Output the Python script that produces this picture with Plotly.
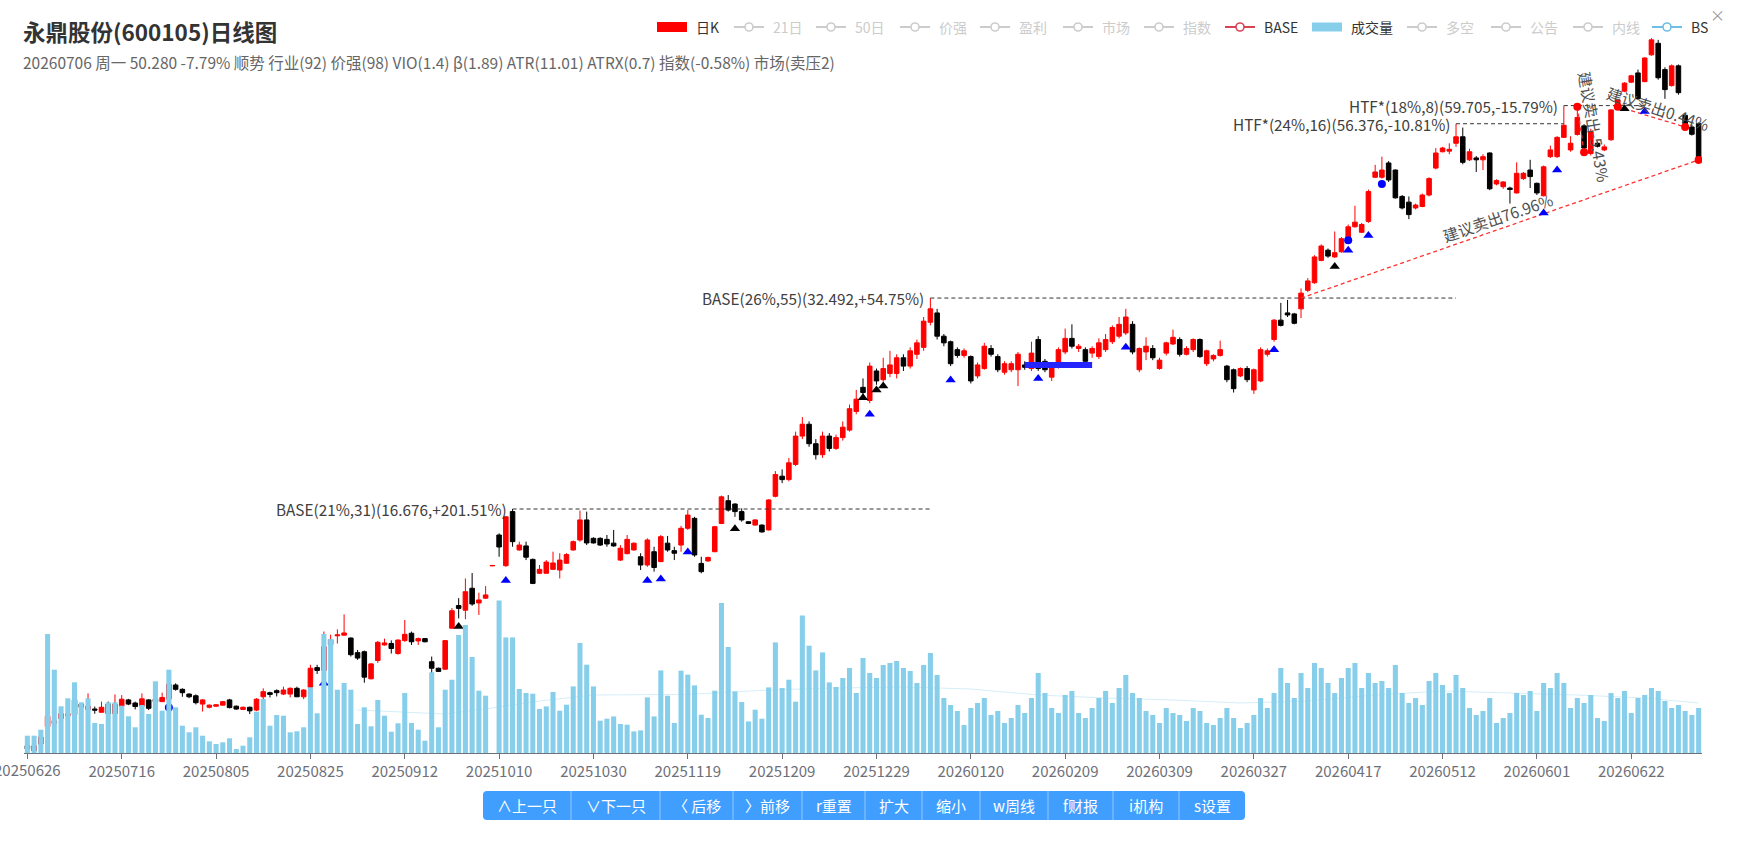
import plotly.graph_objects as go
import math

# ---------------- data ----------------
tick_labels = ["20250626", "20250716", "20250805", "20250825", "20250912", "20251010",
               "20251030", "20251119", "20251209", "20251229", "20260120", "20260209",
               "20260309", "20260327", "20260417", "20260512", "20260601", "20260622"]
tick_step = 14

opens = [
    7.89, 7.76, 7.93, 8.38, 8.46, 8.60, 8.67, 8.70, 9.00, 8.85,
    8.86, 8.77, 9.00, 8.73, 8.94, 9.12, 9.03, 8.94, 9.12, 9.14,
    9.07, 9.14, 9.56, 9.43, 9.29, 9.24, 9.00, 8.91, 8.94, 8.97,
    9.12, 8.94, 8.85, 8.91, 8.83, 9.21, 9.33, 9.39, 9.29, 9.29,
    9.46, 9.21, 9.49, 10.10, 10.01, 10.86, 11.17, 11.19, 11.09, 10.59,
    10.62, 9.75, 10.33, 10.85, 10.90, 10.56, 11.00, 11.26, 10.99, 11.07,
    10.29, 10.08, 10.05, 11.44, 12.29, 12.11, 12.98, 12.39, 12.58, 13.93,
    15.36, 13.94, 16.54, 14.65, 14.84, 14.22, 13.61, 13.61, 13.78, 13.75,
    14.05, 14.65, 15.12, 16.11, 15.20, 15.20, 15.15, 14.97, 14.19, 14.48,
    14.65, 14.34, 13.97, 14.57, 14.12, 14.97, 14.62, 14.88, 15.69, 16.19,
    14.04, 14.15, 14.57, 15.93, 17.12, 16.94, 16.54, 16.02, 15.85, 15.85,
    15.61, 17.36, 18.5, 18.3, 19.2, 21.0, 21.8, 20.5, 19.8, 21.0,
    20.2, 20.9, 21.4, 22.7, 24.5, 23.5, 25.8, 25.1, 25.6, 25.6,
    26.9, 26.2, 27.2, 27.8, 30.1, 31.0, 28.8, 28.3, 27.6, 27.1,
    27.0, 25.4, 26.0, 27.7, 27.0, 25.7, 25.9, 25.9, 26.3, 26.0,
    28.5, 26.6, 25.3, 26.2, 27.4, 28.6, 27.7, 27.6, 27.3, 27.0,
    27.6, 28.3, 28.8, 29.1, 29.9, 25.9, 27.4, 27.7, 26.0, 27.3,
    28.1, 28.5, 27.2, 27.6, 28.5, 26.4, 26.8, 27.1, 26.2, 25.9,
    25.4, 26.0, 24.3, 25.0, 27.2, 28.5, 30.3, 31.0, 30.9, 31.4,
    33.3, 34.1, 36.6, 37.8, 37.0, 37.6, 39.0, 40.7, 40.0, 41.4,
    47.6, 47.6, 49.8, 48.7, 44.8, 44.0, 43.2, 43.4, 45.0, 49.0,
    51.6, 51.7, 53.0, 54.1, 50.3, 50.6, 50.3, 51.4, 46.6, 46.2,
    46.0, 45.3, 47.4, 48.7, 46.7, 44.9, 50.8, 50.8, 54.0, 51.9,
    54.5, 56.0, 51.3, 53.0, 51.9, 53.6, 59.3, 62.5, 64.3, 66.2,
    64.4, 70.1, 72.7, 66.9, 63.6, 67.7, 57.9, 55.8, 56.4]

highs = [
    7.96, 7.95, 8.14, 8.87, 8.79, 8.80, 8.94, 9.17, 9.02, 9.31,
    8.93, 9.07, 9.07, 9.28, 9.26, 9.15, 9.07, 9.31, 9.14, 9.49,
    9.33, 9.65, 9.61, 9.46, 9.31, 9.28, 9.14, 8.99, 8.99, 9.09,
    9.15, 8.96, 8.93, 8.93, 9.17, 9.46, 9.36, 9.43, 9.51, 9.49,
    9.51, 9.43, 10.19, 10.19, 11.32, 11.21, 11.40, 11.95, 11.11, 10.68,
    10.66, 10.25, 10.99, 11.07, 11.01, 11.04, 11.74, 11.32, 11.11, 11.09,
    10.46, 10.10, 11.02, 12.19, 12.58, 13.39, 13.62, 12.80, 13.07, 13.95,
    15.44, 16.31, 16.676, 15.04, 15.04, 14.26, 13.97, 14.19, 14.57, 14.50,
    14.50, 15.10, 16.59, 16.54, 15.25, 15.25, 15.36, 15.61, 14.88, 15.36,
    15.00, 14.50, 15.20, 14.80, 15.36, 15.31, 14.80, 15.81, 16.62, 16.27,
    14.34, 14.34, 15.81, 17.40, 17.43, 16.98, 16.71, 16.05, 16.15, 15.88,
    17.20, 18.8, 18.9, 19.6, 21.3, 22.3, 22.0, 20.8, 21.3, 21.2,
    21.1, 22.0, 23.2, 24.3, 25.2, 26.5, 26.0, 26.9, 27.5, 27.2,
    27.2, 27.8, 28.5, 30.6, 32.492, 31.4, 29.0, 28.4, 27.8, 27.7,
    27.1, 26.5, 28.2, 28.0, 27.2, 26.6, 26.6, 27.4, 26.6, 28.3,
    28.8, 26.8, 26.4, 27.8, 29.5, 29.9, 28.1, 27.8, 27.9, 28.6,
    29.0, 29.8, 30.6, 31.4, 30.2, 27.8, 28.7, 28.0, 26.9, 28.3,
    29.4, 28.7, 27.9, 28.6, 28.6, 27.6, 27.2, 28.4, 26.3, 26.0,
    26.1, 26.2, 26.0, 27.8, 27.7, 30.4, 32.0, 32.3, 31.0, 33.5,
    34.6, 37.2, 38.5, 38.0, 40.1, 39.4, 41.0, 43.5, 41.2, 45.8,
    49.5, 50.8, 50.1, 48.8, 45.0, 44.8, 43.8, 45.2, 47.6, 52.2,
    52.4, 53.0, 56.376, 55.7, 52.1, 50.9, 51.2, 51.5, 47.3, 47.0,
    46.2, 49.9, 48.4, 50.3, 46.8, 49.4, 52.6, 54.2, 59.705, 54.2,
    59.4, 56.3, 55.5, 53.3, 52.8, 59.0, 61.0, 64.3, 65.8, 66.9,
    69.6, 73.9, 73.5, 67.4, 68.0, 68.0, 58.3, 56.2, 56.6]

lows = [
    7.73, 7.72, 7.92, 8.38, 8.43, 8.58, 8.65, 8.65, 8.79, 8.84,
    8.73, 8.77, 8.70, 8.72, 8.93, 8.97, 8.85, 8.85, 8.83, 9.04,
    9.07, 9.07, 9.39, 9.21, 9.17, 8.99, 8.79, 8.88, 8.93, 8.96,
    8.88, 8.84, 8.83, 8.72, 8.80, 9.12, 9.19, 9.22, 9.26, 9.19,
    9.21, 9.14, 9.46, 9.90, 9.98, 10.83, 10.90, 11.19, 10.46, 10.35,
    9.63, 9.73, 10.25, 10.83, 10.56, 10.52, 10.96, 10.85, 10.85, 10.94,
    9.92, 9.96, 10.03, 11.42, 11.80, 11.77, 12.28, 11.93, 12.55, 13.93,
    14.34, 13.89, 14.80, 14.62, 14.19, 13.15, 13.58, 13.61, 13.75, 13.39,
    14.02, 14.62, 15.04, 14.88, 14.95, 14.84, 14.80, 14.80, 14.15, 14.45,
    14.62, 13.75, 13.89, 13.68, 14.10, 14.57, 14.19, 14.57, 15.61, 14.34,
    13.61, 14.12, 14.55, 15.90, 16.54, 16.27, 16.02, 15.90, 15.82, 15.48,
    15.58, 17.3, 18.1, 18.2, 19.1, 20.8, 20.3, 19.5, 19.6, 20.0,
    20.1, 20.7, 21.3, 22.5, 23.9, 23.3, 24.7, 24.95, 25.3, 25.2,
    25.8, 26.0, 26.8, 27.5, 29.8, 28.5, 27.9, 26.2, 26.9, 26.9,
    24.8, 25.2, 25.9, 27.0, 25.7, 25.5, 25.7, 24.6, 25.9, 25.8,
    25.8, 25.7, 25.0, 26.0, 27.2, 27.7, 27.4, 26.4, 26.9, 26.8,
    27.4, 28.1, 28.6, 28.9, 27.2, 25.7, 26.7, 26.7, 25.9, 27.1,
    28.0, 27.0, 27.1, 27.4, 26.9, 26.2, 26.6, 27.0, 24.9, 24.1,
    25.3, 24.9, 24.0, 24.9, 27.0, 28.3, 29.7, 30.6, 29.9, 30.5,
    33.1, 34.0, 36.5, 36.9, 36.9, 37.5, 38.9, 40.6, 39.9, 41.2,
    47.5, 47.4, 46.9, 44.5, 43.0, 41.7, 43.0, 43.3, 44.8, 48.8,
    51.5, 51.2, 52.4, 49.6, 50.1, 48.4, 48.7, 45.7, 46.4, 45.9,
    43.8, 45.2, 47.2, 46.0, 45.0, 44.8, 50.6, 50.6, 53.9, 51.6,
    54.3, 51.5, 51.0, 52.3, 51.7, 53.4, 59.2, 62.3, 64.1, 60.8,
    64.3, 69.9, 64.8, 61.0, 63.4, 61.8, 55.8, 54.3, 50.0]

closes = [
    7.81, 7.89, 8.11, 8.66, 8.54, 8.73, 8.73, 9.12, 8.91, 8.94,
    8.83, 8.91, 8.73, 9.00, 9.14, 9.00, 8.93, 9.15, 8.88, 9.07,
    9.19, 9.58, 9.43, 9.33, 9.21, 9.04, 9.12, 8.97, 8.98, 9.07,
    8.90, 8.86, 8.91, 8.81, 9.14, 9.36, 9.28, 9.33, 9.41, 9.46,
    9.21, 9.41, 10.08, 10.01, 10.79, 11.04, 11.20, 11.27, 10.52, 10.41,
    9.80, 10.22, 10.94, 10.92, 10.73, 11.02, 11.22, 10.96, 11.07, 10.96,
    10.08, 9.98, 11.00, 12.09, 12.18, 12.84, 12.35, 12.51, 12.71, 13.95,
    14.79, 16.27, 15.04, 14.88, 14.32, 13.18, 13.78, 14.10, 14.06, 14.19,
    14.44, 15.04, 16.11, 14.98, 14.98, 14.88, 14.93, 14.84, 14.73, 15.15,
    14.97, 13.97, 15.12, 13.86, 15.28, 14.65, 14.50, 15.69, 16.36, 14.42,
    13.68, 14.31, 15.77, 17.33, 16.62, 16.54, 16.11, 15.93, 16.11, 15.51,
    17.16, 18.6, 18.3, 19.3, 21.0, 21.8, 20.5, 19.8, 21.0, 20.2,
    20.9, 21.6, 22.9, 23.6, 24.1, 26.2, 25.0, 26.0, 26.3, 26.9,
    26.2, 27.5, 28.2, 30.2, 31.4, 28.8, 28.2, 26.4, 27.1, 27.5,
    25.0, 26.3, 27.9, 27.2, 25.9, 26.4, 26.4, 27.2, 26.1, 27.3,
    26.0, 25.9, 26.2, 27.6, 28.6, 27.9, 27.9, 26.6, 27.7, 28.2,
    28.5, 29.6, 29.9, 30.6, 27.4, 27.7, 27.9, 26.9, 26.7, 28.2,
    28.7, 27.2, 27.7, 28.5, 27.0, 27.5, 27.1, 27.6, 25.1, 24.4,
    26.0, 25.1, 25.9, 27.6, 27.5, 30.3, 29.8, 30.8, 30.0, 33.0,
    34.3, 37.0, 38.3, 37.1, 37.5, 39.2, 40.7, 41.3, 41.0, 45.5,
    48.4, 48.7, 47.2, 44.6, 43.2, 42.3, 43.6, 45.0, 47.4, 51.4,
    52.2, 52.0, 54.1, 49.9, 51.6, 50.3, 50.8, 45.9, 47.1, 46.9,
    45.8, 48.2, 48.2, 47.7, 45.3, 49.2, 51.9, 54.0, 56.1, 53.0,
    57.5, 52.2, 55.0, 52.5, 52.4, 58.9, 60.8, 64.1, 65.6, 61.0,
    69.4, 73.5, 65.2, 62.8, 67.7, 62.2, 56.4, 54.53, 50.28]

volume = [
    17.3, 17.3, 23.3, 119, 83.3, 46.7, 54.7, 70.7, 50.7, 54.7,
    30, 29, 50.7, 50.7, 47.3, 36.7, 25.7, 48, 39, 71.7,
    42.3, 83.3, 45.7, 27.3, 20.7, 25.7, 17.3, 11.7, 9, 10.7,
    14.7, 4, 7.3, 15.7, 41.3, 54, 27.3, 38, 37.3, 20.7,
    21.7, 25.7, 65.7, 39.7, 119, 114, 63.3, 70, 63.3, 29,
    45.7, 26.7, 53, 37.3, 21.3, 29.7, 60, 30, 23.3, 12.3,
    80.7, 25.7, 63.3, 73.3, 118, 128, 96, 62.3, 57.3, 0,
    152.6, 115.6, 115.6, 64, 60, 59.3, 44, 46.6, 61, 42.3,
    48.3, 66.6, 110, 88.3, 66.6, 32.3, 34.3, 36.6, 29, 28.3,
    21.6, 22.6, 55.6, 36.6, 82.6, 57.3, 30, 82.3, 78.3, 67.6,
    38.3, 35, 62.3, 150, 106, 61.6, 51, 31.6, 43.3, 34.3,
    65.6, 110.6, 65, 73.3, 51.3, 137.6, 107.3, 82.6, 100.6, 70.6,
    66, 75, 85, 60, 95, 80, 75, 88, 90, 92,
    85, 82, 70, 88, 100, 78, 55, 48, 42, 28,
    45, 50, 55, 38, 42, 30, 35, 48, 40, 55,
    80, 60, 45, 40, 58, 62, 40, 35, 45, 55,
    62, 50, 65, 78, 60, 55, 42, 38, 30, 45,
    40, 38, 32, 45, 42, 30, 28, 35, 45, 35,
    25, 30, 38, 55, 45, 60, 85, 70, 55, 80,
    65, 90, 85, 70, 60, 75, 85, 90, 65, 80,
    70, 72, 65, 88, 60, 50, 55, 48, 72, 80,
    68, 60, 78, 65, 45, 38, 42, 55, 30, 35,
    40, 60, 58, 62, 42, 70, 65, 80, 70, 45,
    55, 50, 58, 35, 32, 60, 55, 62, 40, 55,
    58, 65, 62, 52, 45, 48, 42, 38, 45]

vol_ma_idx = [49, 56, 62, 69, 76, 84, 98, 110, 120, 130, 140, 150, 160, 170, 180,
              190, 200, 210, 220, 230, 240, 248]
vol_ma_val = [43, 41, 39, 45, 52, 58, 58.6, 63, 65, 66, 64, 58, 55, 53, 50,
              52, 58, 62, 60, 58, 55, 50]

# BASE / HTF levels
base_labels = ["BASE(21%,31)(16.676,+201.51%)", "BASE(26%,55)(32.492,+54.75%)",
               "HTF*(24%,16)(56.376,-10.81%)", "HTF*(18%,8)(59.705,-15.79%)"]
base_start = [72, 134, 212, 228]
base_end = [134, 212, 228, 240]
base_price = [16.676, 32.492, 56.376, 59.705]

# signal markers
blue_tri_idx = [44, 71, 92, 94, 98, 125, 137, 150, 163, 185, 196, 199, 225, 227, 240]
blue_tri_val = [9.61, 13.30, 13.30, 13.37, 14.56, 22.5, 25.08, 25.2, 27.8, 27.6,
                37.8, 39.6, 42.5, 48.7, 58.6]
black_tri_idx = [64, 105, 124, 126, 127, 194, 237]
black_tri_val = [11.5, 15.67, 23.7, 24.3, 24.6, 35.9, 59.1]
blue_dot_idx = [21, 196, 201]
blue_dot_val = [8.90, 39.0, 46.6]
red_dot_idx = [230, 231, 236, 246, 248]
red_dot_val = [59.5, 51.5, 59.5, 55.8, 50.28]

box_idx = [148, 158]
box_val = 26.3

# suggested-sell lines
sell_x0 = [189, 230, 236]
sell_y0 = [32.49, 59.5, 59.5]
sell_x1 = [248, 231, 246]
sell_y1 = [50.28, 51.5, 55.8]
sell_text = ["建议卖出76.96%", "建议卖出-5.43%", "建议卖出0.44%"]
sell_text_x = [218.2, 232.6, 241.9]
sell_text_y = [42.0, 55.84, 59.19]
sell_text_angle = [-19, 80, 18]

legend_names = ["日K", "21日", "50日", "价强", "盈利", "市场", "指数", "BASE", "成交量",
                "多空", "公告", "内线", "BS"]
legend_kind = ["rect", "line", "line", "line", "line", "line", "line", "line", "rect",
               "line", "line", "line", "line"]
legend_on = [True, False, False, False, False, False, False, True, True,
             False, False, False, True]
legend_color = ["#ff0000", "#ccc", "#ccc", "#ccc", "#ccc", "#ccc", "#ccc", "#d94455",
                "#87ceeb", "#ccc", "#ccc", "#ccc", "#6dbfe3"]
legend_text_left = [694, 771, 853, 937, 1017, 1100, 1181, 1262, 1349, 1444, 1528, 1610, 1689]

buttons = ["∧上一只", "∨下一只", "〈 后移", "〉前移", "r重置", "扩大", "缩小", "w周线",
           "f财报", "i机构", "s设置"]
button_edges = [483, 571, 660, 733, 802, 865, 922, 980, 1048, 1113, 1179, 1245]

title = "永鼎股份(600105)日线图"
subtitle = ("20260706 周一 50.280 -7.79% 顺势 行业(92) 价强(98) VIO(1.4) β(1.89) "
            "ATR(11.01) ATRX(0.7) 指数(-0.58%) 市场(卖压2)")

# ---------------- layout helpers ----------------
W, H = 1742, 846
ML, MR, MT, MB = 24, 40, 30, 93
PW = W - ML - MR
PH = H - MT - MB
FONT = "Noto Sans CJK SC, Microsoft YaHei, sans-serif"
N = len(closes)
idx = list(range(N))


def fx(px):
    return (px - ML) / PW


def fy(py):
    return 1 - (py - MT) / PH


fig = go.Figure()

fig.add_trace(go.Bar(x=idx, y=volume, yaxis="y2",
                     marker=dict(color="rgb(135,206,235)", line=dict(width=0)), hoverinfo="skip"))
fig.add_trace(go.Scatter(x=vol_ma_idx, y=vol_ma_val, yaxis="y2", mode="lines",
                         line=dict(color="rgba(135,206,235,0.35)", width=1), hoverinfo="skip"))

fig.add_trace(go.Candlestick(
    x=idx, open=opens, high=highs, low=lows, close=closes,
    increasing=dict(line=dict(color="#ff0000", width=1), fillcolor="#ff0000"),
    decreasing=dict(line=dict(color="#000000", width=1), fillcolor="#000000"),
    whiskerwidth=0, hoverinfo="skip"))

fig.add_trace(go.Scatter(x=box_idx, y=[box_val, box_val], mode="lines",
                         line=dict(color="#2424ff", width=6), hoverinfo="skip"))

for s, e, p in zip(base_start, base_end, base_price):
    fig.add_trace(go.Scatter(x=[s, e], y=[p, p], mode="lines",
                             line=dict(color="#333", width=1, dash="4px,3px"), hoverinfo="skip"))

for x0, y0, x1, y1 in zip(sell_x0, sell_y0, sell_x1, sell_y1):
    fig.add_trace(go.Scatter(x=[x0, x1], y=[y0, y1], mode="lines",
                             line=dict(color="#ff3030", width=1.3, dash="4px,3px"), hoverinfo="skip"))

fig.add_trace(go.Scatter(x=blue_tri_idx, y=blue_tri_val, mode="markers",
                         marker=dict(symbol="triangle-up", size=9, color="#0000ff"), hoverinfo="skip"))
fig.add_trace(go.Scatter(x=black_tri_idx, y=black_tri_val, mode="markers",
                         marker=dict(symbol="triangle-up", size=9, color="#000000"), hoverinfo="skip"))
fig.add_trace(go.Scatter(x=blue_dot_idx, y=blue_dot_val, mode="markers",
                         marker=dict(symbol="circle", size=8, color="#0000ff"), hoverinfo="skip"))
fig.add_trace(go.Scatter(x=red_dot_idx, y=red_dot_val, mode="markers",
                         marker=dict(symbol="circle", size=8, color="#ff0000"), hoverinfo="skip"))

annotations = []
shapes = []

for lab, s, p in zip(base_labels, base_start, base_price):
    annotations.append(dict(x=s, y=math.log10(p), xref="x", yref="y", text=lab, showarrow=False,
                            xanchor="right", yanchor="middle", xshift=-4,
                            font=dict(family=FONT, size=15.3, color="#404040")))

for t, x, y, a in zip(sell_text, sell_text_x, sell_text_y, sell_text_angle):
    annotations.append(dict(x=x, y=math.log10(y), xref="x", yref="y", text=t, showarrow=False,
                            textangle=a, xanchor="center", yanchor="middle",
                            font=dict(family=FONT, size=15.5, color="#505050")))

# first tick label (partly outside the canvas, as in the original)
annotations.append(dict(x=0, y=fy(769), xref="x", yref="paper", text=tick_labels[0], showarrow=False,
                        xanchor="center", yanchor="middle",
                        font=dict(family=FONT, size=15, color="#6E7079")))

annotations.append(dict(x=fx(21), y=fy(31), xref="paper", yref="paper", text="<b>" + title + "</b>",
                        showarrow=False, xanchor="left", yanchor="middle",
                        font=dict(family=FONT, size=22.5, color="#333")))
annotations.append(dict(x=fx(21), y=fy(62), xref="paper", yref="paper", text=subtitle,
                        showarrow=False, xanchor="left", yanchor="middle",
                        font=dict(family=FONT, size=15.5, color="#666")))

LY = 27
for name, kind, on, col, tl in zip(legend_names, legend_kind, legend_on, legend_color, legend_text_left):
    il = tl - 37
    if kind == "rect":
        h = 10 if name == "日K" else 9
        shapes.append(dict(type="rect", xref="paper", yref="paper", x0=fx(il), x1=fx(il + 30),
                           y0=fy(LY - h / 2), y1=fy(LY + h / 2), fillcolor=col, line=dict(width=0),
                           layer="above"))
    else:
        shapes.append(dict(type="line", xref="paper", yref="paper", x0=fx(il), x1=fx(il + 30),
                           y0=fy(LY), y1=fy(LY), line=dict(color=col, width=2), layer="above"))
        shapes.append(dict(type="circle", xref="paper", yref="paper", x0=fx(il + 11), x1=fx(il + 19),
                           y0=fy(LY - 4), y1=fy(LY + 4), fillcolor="white",
                           line=dict(color=col, width=1.6), layer="above"))
    annotations.append(dict(x=fx(tl), y=fy(LY), xref="paper", yref="paper", text=name, showarrow=False,
                            xanchor="left", yanchor="middle",
                            font=dict(family=FONT, size=14, color="#333" if on else "#ccc")))

annotations.append(dict(x=fx(1717), y=fy(14), xref="paper", yref="paper", text="×", showarrow=False,
                        xanchor="center", yanchor="middle", font=dict(family=FONT, size=15, color="#999")))

BY0, BY1 = 791, 820
rr = 4
x0b, x1b = button_edges[0], button_edges[-1]
path = (f"M {fx(x0b + rr)},{fy(BY0)} L {fx(x1b - rr)},{fy(BY0)} Q {fx(x1b)},{fy(BY0)} {fx(x1b)},{fy(BY0 + rr)} "
        f"L {fx(x1b)},{fy(BY1 - rr)} Q {fx(x1b)},{fy(BY1)} {fx(x1b - rr)},{fy(BY1)} "
        f"L {fx(x0b + rr)},{fy(BY1)} Q {fx(x0b)},{fy(BY1)} {fx(x0b)},{fy(BY1 - rr)} "
        f"L {fx(x0b)},{fy(BY0 + rr)} Q {fx(x0b)},{fy(BY0)} {fx(x0b + rr)},{fy(BY0)} Z")
shapes.append(dict(type="path", xref="paper", yref="paper", path=path, fillcolor="#409eff",
                   line=dict(width=0), layer="above"))
for e in button_edges[1:-1]:
    shapes.append(dict(type="line", xref="paper", yref="paper", x0=fx(e), x1=fx(e), y0=fy(BY0), y1=fy(BY1),
                       line=dict(color="rgba(255,255,255,0.45)", width=1), layer="above"))
for lab, a, b in zip(buttons, button_edges[:-1], button_edges[1:]):
    annotations.append(dict(x=fx((a + b) / 2), y=fy((BY0 + BY1) / 2), xref="paper", yref="paper", text=lab,
                            showarrow=False, xanchor="center", yanchor="middle",
                            font=dict(family=FONT, size=15, color="white")))

fig.update_layout(
    width=W, height=H,
    margin=dict(l=ML, r=MR, t=MT, b=MB, pad=0),
    paper_bgcolor="white", plot_bgcolor="white",
    showlegend=False,
    bargap=0.25,
    boxgap=0.25, boxgroupgap=0.1,
    annotations=annotations, shapes=shapes,
    xaxis=dict(range=[-0.5, N - 0.5], tickvals=list(range(0, N, tick_step))[:len(tick_labels)],
               ticktext=tick_labels, showline=True, linecolor="#6E7079", linewidth=1,
               ticks="outside", ticklen=5, tickwidth=1, tickcolor="#6E7079",
               tickfont=dict(family=FONT, size=15, color="#6E7079"),
               showgrid=False, zeroline=False, rangeslider=dict(visible=False), fixedrange=True),
    yaxis=dict(type="log", range=[0.88708, 1.87981], visible=False, showgrid=False, fixedrange=True),
    yaxis2=dict(overlaying="y", range=[0, PH], visible=False, showgrid=False, fixedrange=True),
)

fig.write_html("out.html", config={"displayModeBar": False})
